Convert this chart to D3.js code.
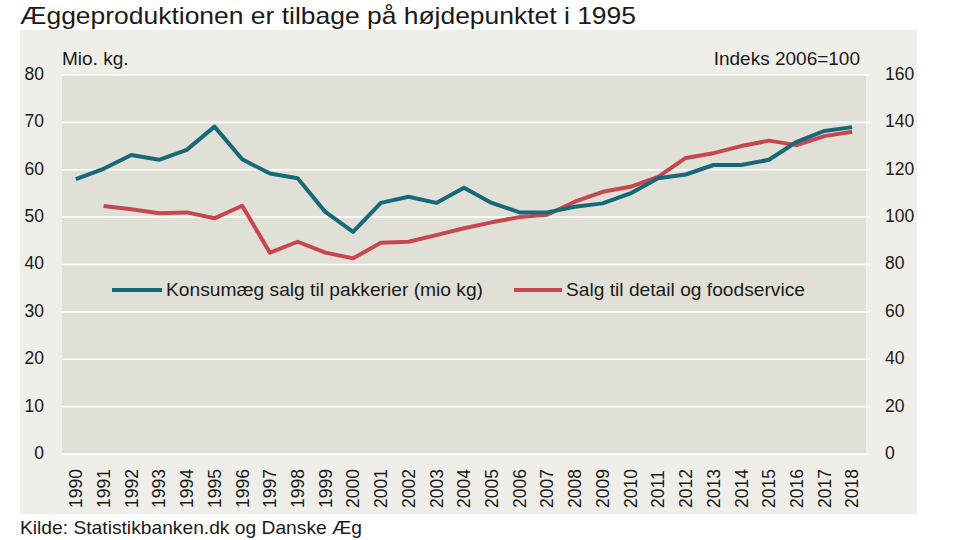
<!DOCTYPE html>
<html><head><meta charset="utf-8">
<script src="https://cdn.jsdelivr.net/npm/d3@7"></script>
<style>body{margin:0;background:#fff;}svg{display:block;font-family:"Liberation Sans",Arial,sans-serif;}</style>
</head><body>
<script>
const years = [1990,1991,1992,1993,1994,1995,1996,1997,1998,1999,2000,2001,2002,2003,2004,2005,2006,2007,2008,2009,2010,2011,2012,2013,2014,2015,2016,2017,2018];
const konsumaeg = [58,60.2,63.1,62.1,64.2,69.1,62.2,59.2,58.2,51.1,46.9,53,54.3,53,56.2,53,51,51,52.2,52.9,55,58.2,59,61,61,62.1,65.9,68.2,69];
const detail = [null,104.7,103.3,101.6,102,99.5,104.8,85,89.6,85,82.6,89.2,89.6,92.4,95.3,97.8,100,101,106.5,110.7,112.8,117,125,127,130,132.3,130.4,134.2,136];
const leftTicks = [0,10,20,30,40,50,60,70,80];
const rightTicks = [0,20,40,60,80,100,120,140,160];
const seriesNames = ["Konsumæg salg til pakkerier (mio kg)", "Salg til detail og foodservice"];
const colors = ["#17697a", "#c8474e"];

const W=960,H=540;
const svg=d3.select("body").append("svg").attr("width",W).attr("height",H);
const pl=62, pr=866, pt=75, pb=454;
const tc="#1a1a1a";

svg.append("rect").attr("x",20).attr("y",30).attr("width",897).attr("height",484).attr("fill","#efeee9");
svg.append("rect").attr("x",pl).attr("y",pt).attr("width",pr-pl).attr("height",pb-pt).attr("fill","#e1e0d6");

const x=d3.scalePoint().domain(years).range([pl,pr]).padding(0.5);
const yL=d3.scaleLinear().domain([0,80]).range([pb,pt]);
const yR=d3.scaleLinear().domain([0,160]).range([pb,pt]);

// gridlines
svg.append("g").selectAll("line").data(leftTicks).join("line")
  .attr("x1",pl).attr("x2",pr+4).attr("y1",d=>yL(d)).attr("y2",d=>yL(d))
  .attr("stroke","#fff").attr("stroke-width",1.6);

// left axis
const gl=svg.append("g").attr("transform",`translate(${pl},0)`)
  .call(d3.axisLeft(yL).tickValues(leftTicks).tickSize(0).tickPadding(18));
gl.select(".domain").remove();
gl.selectAll("text").attr("font-size",17.5).attr("fill",tc).attr("font-family","Liberation Sans, Arial").attr("dy","0.25em");

const gr=svg.append("g").attr("transform",`translate(${pr},0)`)
  .call(d3.axisRight(yR).tickValues(rightTicks).tickSize(0).tickPadding(19));
gr.select(".domain").remove();
gr.selectAll("text").attr("font-size",17.5).attr("fill",tc).attr("font-family","Liberation Sans, Arial").attr("dy","0.25em");

// x axis
const gx=svg.append("g").attr("transform",`translate(0,0)`)
  .call(d3.axisBottom(x).tickSize(0).tickPadding(0));
gx.select(".domain").remove();
gx.selectAll(".tick").attr("transform",d=>`translate(${x(d)},508)`);
gx.selectAll("text").attr("font-size",17.5).attr("fill",tc).attr("font-family","Liberation Sans, Arial")
  .attr("text-anchor","start").attr("x",0).attr("y",0).attr("dy","0.36em")
  .attr("transform","rotate(-90)");

// lines
const lineL=d3.line().defined(d=>d[1]!=null).x(d=>x(d[0])).y(d=>yL(d[1]));
const lineR=d3.line().defined(d=>d[1]!=null).x(d=>x(d[0])).y(d=>yR(d[1]));
svg.append("path").datum(years.map((y,i)=>[y,detail[i]])).attr("d",lineR)
  .attr("fill","none").attr("stroke",colors[1]).attr("stroke-width",4).attr("stroke-linejoin","round");
svg.append("path").datum(years.map((y,i)=>[y,konsumaeg[i]])).attr("d",lineL)
  .attr("fill","none").attr("stroke",colors[0]).attr("stroke-width",4).attr("stroke-linejoin","round");

// legend
const leg=[{x1:112,x2:162,tx:166,w:317},{x1:514,x2:562,tx:566,w:239}];
leg.forEach((l,i)=>{
  svg.append("line").attr("x1",l.x1).attr("x2",l.x2).attr("y1",290).attr("y2",290).attr("stroke",colors[i]).attr("stroke-width",4);
  svg.append("text").attr("x",l.tx).attr("y",296).attr("font-size",19).attr("fill",tc)
    .attr("textLength",l.w).attr("lengthAdjust","spacingAndGlyphs").text(seriesNames[i]);
});

// labels
svg.append("text").attr("x",62).attr("y",65).attr("font-size",19).attr("fill",tc).text("Mio. kg.");
svg.append("text").attr("x",860).attr("y",65).attr("text-anchor","end").attr("font-size",19).attr("fill",tc).text("Indeks 2006=100");
svg.append("text").attr("x",20).attr("y",24).attr("font-size",24).attr("fill",tc)
  .attr("textLength",616).attr("lengthAdjust","spacingAndGlyphs").text("Æggeproduktionen er tilbage på højdepunktet i 1995");
svg.append("text").attr("x",20).attr("y",534).attr("font-size",19).attr("fill",tc)
  .attr("textLength",342).attr("lengthAdjust","spacingAndGlyphs").text("Kilde: Statistikbanken.dk og Danske Æg");
</script>
</body></html>
